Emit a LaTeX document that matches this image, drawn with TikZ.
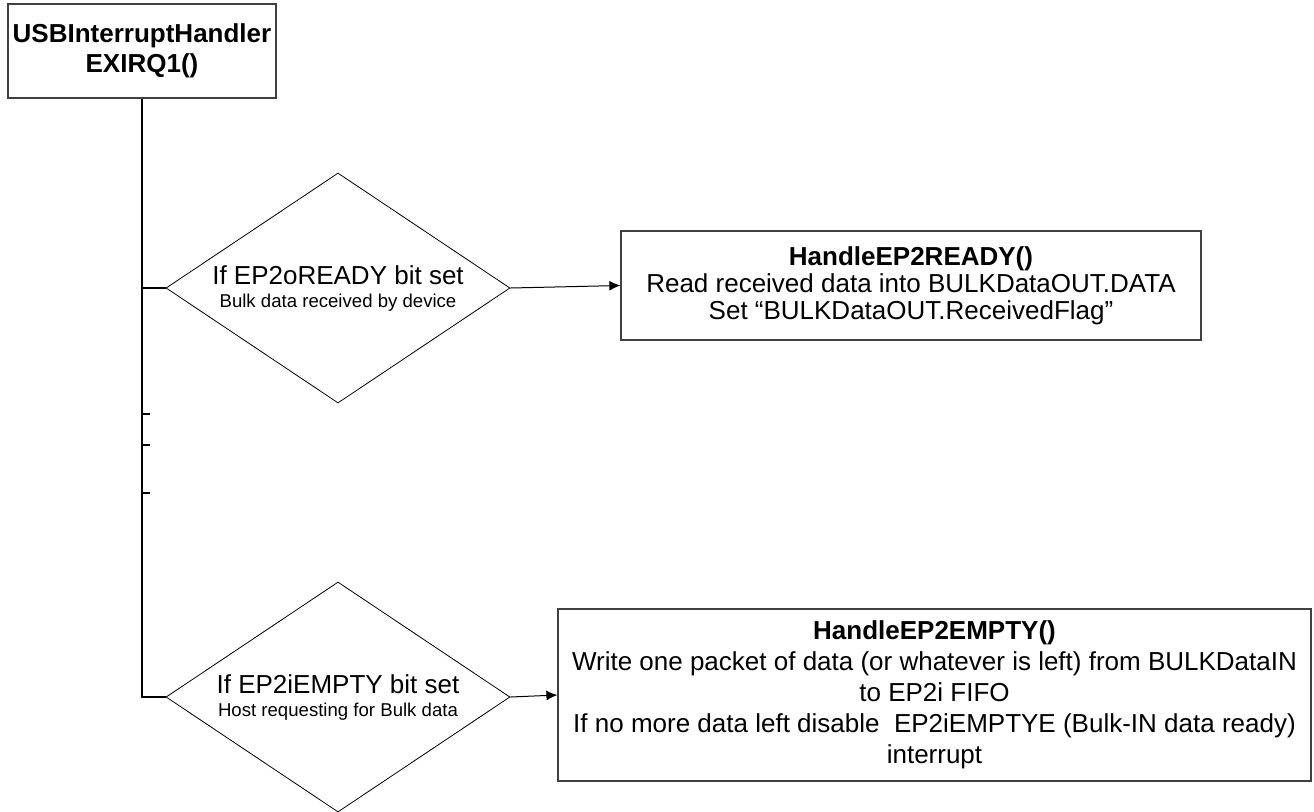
\documentclass[tikz,border=0pt]{standalone}
\usepackage{fontspec}
\setmainfont{Liberation Sans}
\usetikzlibrary{shapes.geometric,arrows.meta,positioning}

\begin{document}
\begin{tikzpicture}[x=0.5pt,y=-0.5pt]
\tikzstyle{func}=[rectangle,draw=black!75,line width=0.6pt,
inner sep=0pt,align=center,font=\fontsize{13pt}{15pt}\selectfont]
\tikzstyle{decision}=[diamond,draw,line width=0.4pt,inner sep=0pt,
aspect=1.5,minimum width=172pt,minimum height=115pt,
align=center,font=\fontsize{13pt}{11.5pt}\selectfont]
\tikzstyle{link}=[line width=0.7pt]
\tikzstyle{arr}=[line width=0.5pt,-{Latex[length=5.5pt,width=5pt]}]
\useasboundingbox (0,0) rectangle (1314,811);

\node[func,minimum width=134pt,minimum height=47pt] at (142,51) (irq)
{\textbf{USBInterruptHandler}\\\textbf{EXIRQ1()}};
\node[decision] at (338,288) (q1)
{If EP2oREADY bit set\\{\fontsize{9.3pt}{11.5pt}\selectfont Bulk data received by device}};
\node[decision] at (338,697) (q2)
{If EP2iEMPTY bit set\\{\fontsize{9.3pt}{11.5pt}\selectfont Host requesting for Bulk data}};
\node[func,minimum width=290pt,minimum height=54.5pt,
font=\fontsize{13pt}{13.5pt}\selectfont] at (911,285.5) (h1)
{\textbf{HandleEP2READY()}\\Read received data into BULKDataOUT.DATA\\Set “BULKDataOUT.ReceivedFlag”};
\node[func,minimum width=376.5pt,minimum height=86pt,
font=\fontsize{13pt}{15.5pt}\selectfont] at (934.5,695) (h2)
{\textbf{HandleEP2EMPTY()}\\Write one packet of data (or whatever is left) from BULKDataIN\\to EP2i FIFO\\If no more data left disable\ \ EP2iEMPTYE (Bulk-IN data ready)\\interrupt};

\draw[link] (irq.south) -- (irq.south |- q2.west) -- (q2.west);
\draw[link] (irq.south |- q1.west) -- (q1.west);
\foreach \ty in {414,445,493}
\draw[link] (irq.south |- 0,\ty) -- ++(8,0);
\path[arr] (q1.east) edge (h1.west);
\path[arr] (q2.east) edge (h2.west);

\end{tikzpicture}
\end{document}
